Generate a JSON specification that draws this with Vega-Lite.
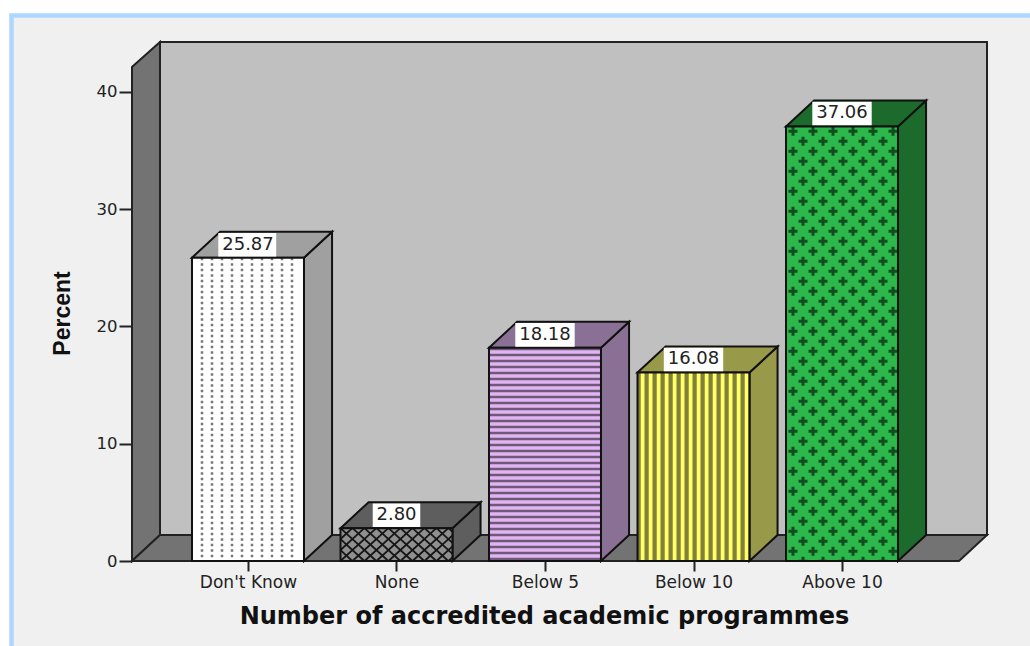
{
  "$schema": "https://vega.github.io/schema/vega-lite/v6.json",
  "width": 855,
  "height": 519,
  "autosize": "none",
  "padding": {"left": 132, "top": 42, "right": 43, "bottom": 85},
  "background": "#ffffff",
  "view": {"stroke": null},
  "datasets": {
    "panel": [{"x": -1.5926, "x2": 5.6, "y": 46.52, "y2": -9}],
    "backWall": [{"x": -0.5926, "x2": 4.9764, "y": 2.217, "y2": 44.264}],
    "shell": [
      {"face": "left wall", "x": -0.7811, "y": 0, "y2": 42.13},
      {"face": "left wall", "x": -0.5926, "y": 2.217, "y2": 44.264},
      {"face": "floor", "x": -0.7811, "y": 0, "y2": 0},
      {"face": "floor", "x": -0.5926, "y": 0, "y2": 2.217},
      {"face": "floor", "x": 4.7879, "y": 0, "y2": 2.217},
      {"face": "floor", "x": 4.9764, "y": 2.217, "y2": 2.217}
    ],
    "depthFaces": [
      {"category": "Don't Know", "face": "side", "x": 0.377, "y": 0, "y2": 25.87},
      {"category": "Don't Know", "face": "side", "x": 0.566, "y": 2.217, "y2": 28.087},
      {"category": "Don't Know", "face": "top", "x": -0.377, "y": 25.87, "y2": 25.87},
      {"category": "Don't Know", "face": "top", "x": -0.188, "y": 25.87, "y2": 28.087},
      {"category": "Don't Know", "face": "top", "x": 0.377, "y": 25.87, "y2": 28.087},
      {"category": "Don't Know", "face": "top", "x": 0.566, "y": 28.087, "y2": 28.087},
      {"category": "None", "face": "side", "x": 1.377, "y": 0, "y2": 2.8},
      {"category": "None", "face": "side", "x": 1.566, "y": 2.217, "y2": 5.017},
      {"category": "None", "face": "top", "x": 0.623, "y": 2.8, "y2": 2.8},
      {"category": "None", "face": "top", "x": 0.812, "y": 2.8, "y2": 5.017},
      {"category": "None", "face": "top", "x": 1.377, "y": 2.8, "y2": 5.017},
      {"category": "None", "face": "top", "x": 1.566, "y": 5.017, "y2": 5.017},
      {"category": "Below 5", "face": "side", "x": 2.377, "y": 0, "y2": 18.18},
      {"category": "Below 5", "face": "side", "x": 2.566, "y": 2.217, "y2": 20.397},
      {"category": "Below 5", "face": "top", "x": 1.623, "y": 18.18, "y2": 18.18},
      {"category": "Below 5", "face": "top", "x": 1.812, "y": 18.18, "y2": 20.397},
      {"category": "Below 5", "face": "top", "x": 2.377, "y": 18.18, "y2": 20.397},
      {"category": "Below 5", "face": "top", "x": 2.566, "y": 20.397, "y2": 20.397},
      {"category": "Below 10", "face": "side", "x": 3.377, "y": 0, "y2": 16.08},
      {"category": "Below 10", "face": "side", "x": 3.566, "y": 2.217, "y2": 18.297},
      {"category": "Below 10", "face": "top", "x": 2.623, "y": 16.08, "y2": 16.08},
      {"category": "Below 10", "face": "top", "x": 2.812, "y": 16.08, "y2": 18.297},
      {"category": "Below 10", "face": "top", "x": 3.377, "y": 16.08, "y2": 18.297},
      {"category": "Below 10", "face": "top", "x": 3.566, "y": 18.297, "y2": 18.297},
      {"category": "Above 10", "face": "side", "x": 4.377, "y": 0, "y2": 37.06},
      {"category": "Above 10", "face": "side", "x": 4.566, "y": 2.217, "y2": 39.277},
      {"category": "Above 10", "face": "top", "x": 3.623, "y": 37.06, "y2": 37.06},
      {"category": "Above 10", "face": "top", "x": 3.812, "y": 37.06, "y2": 39.277},
      {"category": "Above 10", "face": "top", "x": 4.377, "y": 37.06, "y2": 39.277},
      {"category": "Above 10", "face": "top", "x": 4.566, "y": 39.277, "y2": 39.277}
    ],
    "fronts": [
      {"category": "Don't Know", "x": -0.377, "x2": 0.377, "y": 25.87, "y2": 0},
      {"category": "None", "x": 0.623, "x2": 1.377, "y": 2.8, "y2": 0},
      {"category": "Below 5", "x": 1.623, "x2": 2.377, "y": 18.18, "y2": 0},
      {"category": "Below 10", "x": 2.623, "x2": 3.377, "y": 16.08, "y2": 0},
      {"category": "Above 10", "x": 3.623, "x2": 4.377, "y": 37.06, "y2": 0}
    ],
    "dots": [
      {"x": -0.3098, "y": 25.87, "y2": 0},
      {"x": -0.2424, "y": 25.87, "y2": 0},
      {"x": -0.1751, "y": 25.87, "y2": 0},
      {"x": -0.1077, "y": 25.87, "y2": 0},
      {"x": -0.0404, "y": 25.87, "y2": 0},
      {"x": 0.0269, "y": 25.87, "y2": 0},
      {"x": 0.0943, "y": 25.87, "y2": 0},
      {"x": 0.1616, "y": 25.87, "y2": 0},
      {"x": 0.229, "y": 25.87, "y2": 0},
      {"x": 0.2963, "y": 25.87, "y2": 0}
    ],
    "hatch": [
      {"x": 0.623, "y": 1.878, "x2": 0.7024, "y2": 2.8},
      {"x": 0.623, "y": 0.939, "x2": 0.7832, "y2": 2.8},
      {"x": 0.623, "y": 0, "x2": 0.864, "y2": 2.8},
      {"x": 0.7038, "y": 0, "x2": 0.9448, "y2": 2.8},
      {"x": 0.7846, "y": 0, "x2": 1.0256, "y2": 2.8},
      {"x": 0.8654, "y": 0, "x2": 1.1064, "y2": 2.8},
      {"x": 0.9462, "y": 0, "x2": 1.1872, "y2": 2.8},
      {"x": 1.027, "y": 0, "x2": 1.268, "y2": 2.8},
      {"x": 1.1078, "y": 0, "x2": 1.3488, "y2": 2.8},
      {"x": 1.1886, "y": 0, "x2": 1.377, "y2": 2.189},
      {"x": 1.2694, "y": 0, "x2": 1.377, "y2": 1.25},
      {"x": 1.3502, "y": 0, "x2": 1.377, "y2": 0.311},
      {"x": 0.623, "y": 0.922, "x2": 0.7024, "y2": 0},
      {"x": 0.623, "y": 1.861, "x2": 0.7832, "y2": 0},
      {"x": 0.623, "y": 2.8, "x2": 0.864, "y2": 0},
      {"x": 0.7038, "y": 2.8, "x2": 0.9448, "y2": 0},
      {"x": 0.7846, "y": 2.8, "x2": 1.0256, "y2": 0},
      {"x": 0.8654, "y": 2.8, "x2": 1.1064, "y2": 0},
      {"x": 0.9462, "y": 2.8, "x2": 1.1872, "y2": 0},
      {"x": 1.027, "y": 2.8, "x2": 1.268, "y2": 0},
      {"x": 1.1078, "y": 2.8, "x2": 1.3488, "y2": 0},
      {"x": 1.1886, "y": 2.8, "x2": 1.377, "y2": 0.611},
      {"x": 1.2694, "y": 2.8, "x2": 1.377, "y2": 1.55},
      {"x": 1.3502, "y": 2.8, "x2": 1.377, "y2": 2.489}
    ],
    "purpleStripes": [{"x": 2, "y": 18.18, "y2": 0}],
    "yellowStripes": [{"x": 2.623, "x2": 3.377, "y": 8.04}],
    "crossesA": [
      {"x": 3.67, "y": 37.06, "y2": 0},
      {"x": 3.8047, "y": 37.06, "y2": 0},
      {"x": 3.9394, "y": 37.06, "y2": 0},
      {"x": 4.0741, "y": 37.06, "y2": 0},
      {"x": 4.2088, "y": 37.06, "y2": 0},
      {"x": 4.3434, "y": 37.06, "y2": 0}
    ],
    "crossesB": [
      {"x": 3.7374, "y": 37.06, "y2": 0},
      {"x": 3.8721, "y": 37.06, "y2": 0},
      {"x": 4.0067, "y": 37.06, "y2": 0},
      {"x": 4.1414, "y": 37.06, "y2": 0},
      {"x": 4.2761, "y": 37.06, "y2": 0}
    ],
    "labelBoxes": [
      {"x": -0.2, "x2": 0.19, "y": 25.97, "y2": 27.98},
      {"x": 0.84, "x2": 1.16, "y": 2.9, "y2": 4.91},
      {"x": 1.8, "x2": 2.2, "y": 18.28, "y2": 20.29},
      {"x": 2.8, "x2": 3.2, "y": 16.18, "y2": 18.19},
      {"x": 3.8, "x2": 4.2, "y": 37.16, "y2": 39.17}
    ],
    "values": [
      {"x": 0, "y": 25.87},
      {"x": 1, "y": 2.8},
      {"x": 2, "y": 18.18},
      {"x": 3, "y": 16.08},
      {"x": 4, "y": 37.06}
    ]
  },
  "encoding": {
    "x": {
      "field": "x",
      "type": "quantitative",
      "scale": {"domain": [-0.7811, 4.9764], "nice": false, "zero": false},
      "axis": {
        "values": [0, 1, 2, 3, 4],
        "labelExpr": "[\"Don't Know\",\"None\",\"Below 5\",\"Below 10\",\"Above 10\"][datum.value]",
        "title": "Number of accredited academic programmes",
        "titleFont": "DejaVu Sans",
        "titleFontWeight": "bold",
        "titleFontSize": 24,
        "titleColor": "#111111",
        "titleAnchor": "middle",
        "titleBaseline": "middle",
        "titleX": 412,
        "titleY": 55,
        "labelFont": "DejaVu Sans",
        "labelFontSize": 17,
        "labelColor": "#222222",
        "labelPadding": 3,
        "labelOverlap": false,
        "labelFlush": false,
        "tickSize": 10,
        "tickWidth": 2,
        "tickColor": "#222222",
        "domain": false,
        "grid": false,
        "zindex": 1
      }
    },
    "y": {
      "field": "y",
      "type": "quantitative",
      "scale": {"domain": [0, 44.264], "nice": false, "zero": false},
      "axis": {
        "values": [0, 10, 20, 30, 40],
        "title": "Percent",
        "titleFont": "Liberation Sans",
        "titleFontWeight": "bold",
        "titleFontSize": 23,
        "titleColor": "#111111",
        "titleBaseline": "middle",
        "titleX": -70,
        "titleY": 271,
        "labelFont": "DejaVu Sans",
        "labelFontSize": 16.5,
        "labelColor": "#222222",
        "labelPadding": 2,
        "tickSize": 13,
        "tickWidth": 2,
        "tickColor": "#222222",
        "domain": false,
        "grid": false,
        "zindex": 1
      }
    }
  },
  "resolve": {"scale": {"fill": "independent"}},
  "layer": [
    {
      "data": {"name": "panel"},
      "mark": {"type": "rect", "fill": "#f0f0f0", "stroke": "#aed6ff", "strokeWidth": 4.5},
      "encoding": {"x2": {"field": "x2"}, "y2": {"field": "y2"}}
    },
    {
      "data": {"name": "backWall"},
      "mark": {"type": "rect", "fill": "#c0c0c0", "stroke": "#222222", "strokeWidth": 2},
      "encoding": {"x2": {"field": "x2"}, "y2": {"field": "y2"}}
    },
    {
      "data": {"name": "shell"},
      "mark": {"type": "area", "fill": "#737373", "stroke": "#222222", "strokeWidth": 2},
      "encoding": {"y2": {"field": "y2"}, "detail": {"field": "face"}}
    },
    {
      "data": {"name": "depthFaces"},
      "mark": {"type": "area", "stroke": "#111111", "strokeWidth": 2},
      "encoding": {
        "y2": {"field": "y2"},
        "detail": {"field": "face"},
        "fill": {
          "field": "category",
          "type": "nominal",
          "scale": {
            "domain": ["Don't Know", "None", "Below 5", "Below 10", "Above 10"],
            "range": ["#a0a0a0", "#5e5e5e", "#8b7096", "#99994a", "#1c6b2c"]
          },
          "legend": null
        }
      }
    },
    {
      "data": {"name": "fronts"},
      "mark": {"type": "rect"},
      "encoding": {
        "x2": {"field": "x2"},
        "y2": {"field": "y2"},
        "fill": {
          "field": "category",
          "type": "nominal",
          "scale": {
            "domain": ["Don't Know", "None", "Below 5", "Below 10", "Above 10"],
            "range": ["#ffffff", "#8f8f8f", "#e2b4f4", "#ffff66", "#2cb84a"]
          },
          "legend": null
        }
      }
    },
    {
      "data": {"name": "dots"},
      "mark": {"type": "rule", "stroke": "#777777", "strokeWidth": 2.5, "strokeDash": [2.5, 3]},
      "encoding": {"y2": {"field": "y2"}}
    },
    {
      "data": {"name": "hatch"},
      "mark": {"type": "rule", "stroke": "#151515", "strokeWidth": 1.8},
      "encoding": {"x2": {"field": "x2"}, "y2": {"field": "y2"}}
    },
    {
      "data": {"name": "purpleStripes"},
      "mark": {"type": "rule", "stroke": "#6c5a76", "strokeWidth": 112, "strokeDash": [2.5, 3.5]},
      "encoding": {"y2": {"field": "y2"}}
    },
    {
      "data": {"name": "yellowStripes"},
      "mark": {"type": "rule", "stroke": "#80803a", "strokeWidth": 188.5, "strokeDash": [4.2, 3.8], "strokeDashOffset": 1},
      "encoding": {"x2": {"field": "x2"}}
    },
    {
      "data": {"name": "crossesA"},
      "mark": {"type": "rule", "stroke": "#124d22", "strokeWidth": 9, "strokeDash": [3, 17], "strokeDashOffset": 16.8},
      "encoding": {"y2": {"field": "y2"}}
    },
    {
      "data": {"name": "crossesA"},
      "mark": {"type": "rule", "stroke": "#124d22", "strokeWidth": 3, "strokeDash": [9, 11], "strokeDashOffset": 19.8},
      "encoding": {"y2": {"field": "y2"}}
    },
    {
      "data": {"name": "crossesB"},
      "mark": {"type": "rule", "stroke": "#124d22", "strokeWidth": 9, "strokeDash": [3, 17], "strokeDashOffset": 6.8},
      "encoding": {"y2": {"field": "y2"}}
    },
    {
      "data": {"name": "crossesB"},
      "mark": {"type": "rule", "stroke": "#124d22", "strokeWidth": 3, "strokeDash": [9, 11], "strokeDashOffset": 9.8},
      "encoding": {"y2": {"field": "y2"}}
    },
    {
      "data": {"name": "fronts"},
      "mark": {"type": "rect", "fillOpacity": 0, "fill": "#ffffff", "stroke": "#111111", "strokeWidth": 2},
      "encoding": {"x2": {"field": "x2"}, "y2": {"field": "y2"}}
    },
    {
      "data": {"name": "labelBoxes"},
      "mark": {"type": "rect", "fill": "#ffffff"},
      "encoding": {"x2": {"field": "x2"}, "y2": {"field": "y2"}}
    },
    {
      "data": {"name": "values"},
      "mark": {"type": "text", "font": "DejaVu Sans", "fontSize": 18, "color": "#222222", "baseline": "middle", "dy": -13},
      "encoding": {"text": {"field": "y", "type": "quantitative", "format": ".2f"}}
    }
  ]
}
